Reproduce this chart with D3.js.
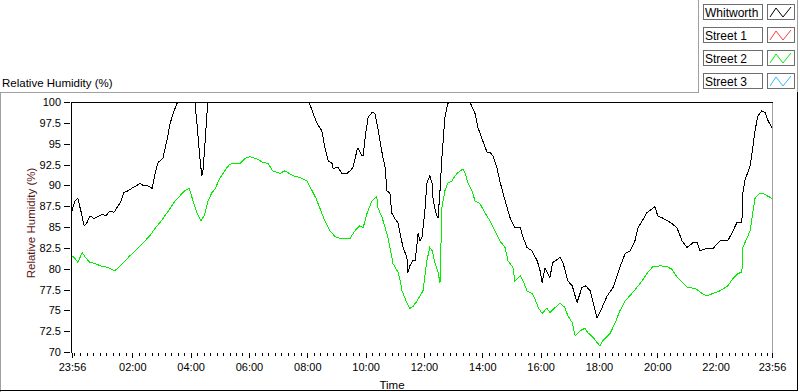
<!DOCTYPE html>
<html>
<head>
<meta charset="utf-8">
<script src="https://cdn.jsdelivr.net/npm/d3@7"></script>
<style>
  body { margin: 0; background: #fff; }
  svg { display: block; font-family: "Liberation Sans", Arial, sans-serif; }
</style>
</head>
<body>
<div id="chart"></div>
<script>
// [minutes after 23:56, relative humidity %]
var whitworth = [[0,87.0],[6,88.2],[12,88.5],[19,86.8],[25,85.2],[31,85.6],[37,86.4],[45,86.1],[53,86.3],[62,86.6],[70,86.4],[78,87.0],[86,86.8],[95,87.6],[101,88.2],[107,89.2],[115,89.4],[123,89.7],[132,90.0],[140,90.3],[148,90.0],[156,90.0],[165,89.7],[171,91.5],[177,92.8],[187,93.3],[195,95.4],[202,97.5],[208,98.7],[216,99.9],[222,100],[253,100],[257,97.5],[263,93.4],[267,91.2],[269,91.5],[274,95.4],[278,99.0],[280,100],[366,100],[488,100],[496,98.7],[504,97.5],[514,96.6],[520,94.6],[527,93.0],[535,92.7],[537,92.1],[547,92.2],[555,91.5],[566,91.5],[572,91.8],[578,92.2],[586,94.2],[588,94.5],[597,93.6],[599,93.6],[603,95.8],[609,98.2],[617,98.8],[623,98.7],[629,97.0],[638,93.9],[644,92.2],[648,89.4],[654,89.1],[658,86.7],[664,86.1],[671,85.5],[675,84.3],[681,82.6],[689,81.4],[691,79.6],[695,80.4],[701,81.0],[706,81.0],[712,84.3],[716,83.4],[720,83.8],[726,87.0],[730,90.3],[736,91.2],[741,90.3],[743,88.2],[749,86.7],[753,86.1],[757,89.4],[761,93.4],[767,98.2],[773,99.9],[778,100],[819,100],[829,98.7],[835,97.0],[845,95.4],[854,94.0],[860,94.0],[866,93.6],[874,92.2],[880,90.6],[891,88.2],[901,86.2],[911,85.0],[922,85.0],[928,83.8],[936,82.6],[946,82.2],[957,81.0],[963,79.8],[967,78.4],[973,80.1],[983,79.0],[989,80.8],[1004,81.4],[1010,80.8],[1020,78.6],[1029,78.0],[1039,76.0],[1049,77.8],[1057,78.0],[1066,77.4],[1072,76.0],[1080,74.1],[1086,74.8],[1101,76.8],[1113,77.8],[1127,80.2],[1138,81.9],[1148,82.2],[1158,83.4],[1164,84.9],[1183,86.8],[1199,87.5],[1205,86.4],[1216,86.1],[1234,85.5],[1245,84.9],[1255,83.4],[1265,82.6],[1278,83.2],[1286,83.2],[1292,82.2],[1306,82.5],[1319,82.5],[1333,83.4],[1349,83.4],[1358,84.4],[1368,85.6],[1378,85.6],[1380,89.1],[1384,90.6],[1395,92.4],[1401,94.8],[1405,96.6],[1411,98.4],[1419,99.0],[1426,98.8],[1432,97.8],[1440,97.0]];

var street1 = [];

var street2 = [[0,81.6],[6,81.3],[12,80.8],[21,82.0],[29,81.3],[37,80.8],[47,80.7],[58,80.4],[68,80.3],[78,80.1],[88,79.8],[99,80.4],[109,81.0],[119,81.6],[130,82.2],[140,82.8],[150,83.4],[160,84.0],[171,84.9],[181,85.6],[191,86.4],[202,87.3],[212,88.2],[222,88.8],[232,89.4],[241,89.7],[249,88.2],[257,86.8],[265,85.8],[272,86.4],[280,88.2],[288,89.2],[294,89.6],[304,90.9],[319,92.2],[325,92.6],[335,92.7],[346,92.7],[356,93.3],[366,93.5],[381,93.2],[393,92.8],[403,92.7],[413,91.8],[428,91.5],[438,91.8],[444,91.6],[455,91.2],[469,91.0],[483,90.6],[490,89.8],[494,89.4],[502,88.5],[510,87.3],[520,85.8],[531,84.6],[541,83.9],[551,83.7],[562,83.7],[572,83.7],[582,84.6],[592,85.2],[599,85.0],[607,86.7],[617,88.2],[627,88.7],[629,87.4],[638,86.2],[644,85.0],[650,83.8],[654,82.6],[658,81.4],[660,80.7],[671,79.6],[675,78.6],[679,77.4],[687,76.2],[695,75.3],[701,75.5],[710,76.2],[716,76.8],[722,77.4],[730,81.0],[736,82.6],[741,82.2],[747,80.7],[753,79.6],[757,78.4],[761,87.4],[767,89.4],[773,90.3],[782,90.6],[788,91.2],[794,91.6],[804,92.0],[808,91.6],[815,90.3],[823,89.4],[829,88.2],[839,87.9],[850,86.7],[860,85.8],[870,84.6],[880,83.4],[891,82.6],[897,81.0],[907,80.2],[911,78.6],[922,79.2],[928,78.6],[936,77.4],[946,77.1],[952,76.5],[959,75.4],[967,74.7],[977,75.3],[983,74.8],[994,75.4],[1004,75.9],[1014,75.4],[1020,74.4],[1029,73.6],[1035,72.0],[1045,72.6],[1055,72.9],[1061,72.4],[1072,71.8],[1080,71.2],[1086,70.8],[1092,71.4],[1107,72.3],[1117,73.5],[1127,75.0],[1138,76.2],[1152,77.1],[1162,77.8],[1173,78.6],[1183,79.5],[1195,80.3],[1210,80.4],[1224,80.3],[1234,80.0],[1245,79.0],[1257,78.3],[1267,77.8],[1282,77.7],[1296,77.1],[1306,76.8],[1319,77.1],[1333,77.4],[1349,78.0],[1360,78.9],[1370,79.5],[1378,79.6],[1380,82.6],[1389,83.8],[1395,84.6],[1401,87.0],[1405,88.5],[1415,89.1],[1421,89.1],[1430,88.8],[1440,88.5]];

var street3 = [];

var seriesNames = ["Whitworth", "Street 1", "Street 2", "Street 3"];
var seriesColors = ["#000000", "#ff3b3b", "#00ee00", "#3cb4ff"];

var yTicks = [70, 72.5, 75, 77.5, 80, 82.5, 85, 87.5, 90, 92.5, 95, 97.5, 100];
// minutes after 23:56 for each labelled tick
var xTickMin = [0, 124, 244, 364, 484, 604, 724, 844, 964, 1084, 1204, 1324, 1440];
var xTickLabels = ["23:56", "02:00", "04:00", "06:00", "08:00", "10:00", "12:00", "14:00", "16:00", "18:00", "20:00", "22:00", "23:56"];

var W = 800, H = 392;
var plot = {left: 72, right: 772, top: 102, bottom: 352};

var svg = d3.select("#chart").append("svg")
    .attr("width", W)
    .attr("height", H);

svg.append("rect").attr("width", W).attr("height", H).attr("fill", "#fff");

var x = d3.scaleLinear().domain([0, 1440]).range([plot.left, plot.right]);
var y = d3.scaleLinear().domain([70, 100]).range([plot.bottom, plot.top]);

// outer frame
var frame = svg.append("g").attr("shape-rendering", "crispEdges");
frame.append("path").attr("d", "M0.5,392V92.5H698.5V0").attr("fill", "none").attr("stroke", "#a0a0a0");
frame.append("path").attr("d", "M797.5,0V92").attr("fill", "none").attr("stroke", "#a0a0a0");
frame.append("path").attr("d", "M797.5,92V390.5H0").attr("fill", "none").attr("stroke", "#000");

// graph title
svg.append("text")
    .attr("x", 2).attr("y", 87)
    .attr("font-size", "11.5px")
    .attr("fill", "#000")
    .text("Relative Humidity (%)");

// plot area borders
var border = svg.append("g").attr("shape-rendering", "crispEdges");
border.append("line").attr("x1", plot.right + 0.5).attr("x2", plot.right + 0.5)
    .attr("y1", plot.top).attr("y2", plot.bottom + 1).attr("stroke", "#a0a0a0");
border.append("line").attr("x1", plot.left - 1).attr("x2", plot.right + 1)
    .attr("y1", plot.top + 0.5).attr("y2", plot.top + 0.5).attr("stroke", "#000");
border.append("line").attr("x1", plot.left - 0.5).attr("x2", plot.left - 0.5)
    .attr("y1", plot.top).attr("y2", plot.bottom + 1).attr("stroke", "#000");

// y axis
var yAxis = d3.axisLeft(y)
    .tickValues(yTicks)
    .tickSize(6)
    .tickPadding(3)
    .tickFormat(function(d) { return d % 1 ? d.toFixed(1) : d; });

var gy = svg.append("g")
    .attr("transform", "translate(" + (plot.left - 2) + ",0)")
    .call(yAxis);
gy.select(".domain").remove();
gy.selectAll("line").attr("shape-rendering", "crispEdges");
gy.selectAll("text").attr("font-size", "11px").attr("fill", "#000")
    .attr("font-family", "Liberation Sans, Arial, sans-serif");

// x axis: minor ticks every 2h/9 from midnight, then the labelled ones
var minorTicks = d3.range(4, 1440, 40 / 3);

var gxMinor = svg.append("g")
    .attr("transform", "translate(0," + (plot.bottom + 1) + ")")
    .call(d3.axisBottom(x).tickValues(minorTicks).tickSize(3).tickFormat(""));
gxMinor.select(".domain").remove();

var gx = svg.append("g")
    .attr("transform", "translate(0," + (plot.bottom + 1) + ")")
    .call(d3.axisBottom(x)
        .tickValues(xTickMin)
        .tickSize(5)
        .tickPadding(5)
        .tickFormat(function(d, i) { return xTickLabels[i]; }));
gx.select(".domain").remove();
svg.selectAll(".tick line").attr("shape-rendering", "crispEdges");
gx.selectAll("text").attr("font-size", "11px").attr("fill", "#000")
    .attr("font-family", "Liberation Sans, Arial, sans-serif");

// axis names
svg.append("text")
    .attr("x", 392).attr("y", 389)
    .attr("text-anchor", "middle")
    .attr("font-size", "11.5px")
    .attr("fill", "#000")
    .text("Time");

svg.append("text")
    .attr("transform", "translate(35," + ((plot.top + plot.bottom) / 2 - 4) + ") rotate(-90)")
    .attr("text-anchor", "middle")
    .attr("font-size", "11.5px")
    .attr("fill", "#5a1414")
    .text("Relative Humidity (%)");

// data lines
svg.append("clipPath").attr("id", "plotclip")
  .append("rect")
    .attr("x", plot.left).attr("y", plot.top)
    .attr("width", plot.right - plot.left).attr("height", plot.bottom - plot.top + 1);

var line = d3.line()
    .x(function(d) { return x(d[0]); })
    .y(function(d) { return y(d[1]) + 0.5; });

var allSeries = [whitworth, street1, street2, street3];

svg.append("g").attr("clip-path", "url(#plotclip)")
  .selectAll("path")
    .data(allSeries)
  .enter().append("path")
    .attr("d", function(d) { return d.length ? line(d) : null; })
    .attr("fill", "none")
    .attr("stroke", function(d, i) { return seriesColors[i]; })
    .attr("stroke-width", 1)
    .attr("shape-rendering", "crispEdges");

// legend
var legend = svg.append("g")
  .selectAll("g")
    .data(seriesNames)
  .enter().append("g")
    .attr("transform", function(d, i) { return "translate(0," + (4 + i * 23) + ")"; });

legend.append("rect")
    .attr("x", 703.5).attr("y", 0.5)
    .attr("width", 59).attr("height", 15)
    .attr("fill", "#fff").attr("stroke", "#6e6e6e")
    .attr("shape-rendering", "crispEdges");

legend.append("text")
    .attr("x", 705).attr("y", 12.5)
    .attr("font-size", "12px")
    .attr("fill", "#000")
    .text(function(d) { return d; });

legend.append("rect")
    .attr("x", 767.5).attr("y", 0.5)
    .attr("width", 27).attr("height", 15)
    .attr("fill", "#fff").attr("stroke", "#6e6e6e")
    .attr("shape-rendering", "crispEdges");

legend.append("path")
    .attr("d", "M770,13L776,4L783,13L791,3")
    .attr("fill", "none")
    .attr("stroke", function(d, i) { return seriesColors[i]; })
    .attr("stroke-width", 1);
</script>
</body>
</html>
